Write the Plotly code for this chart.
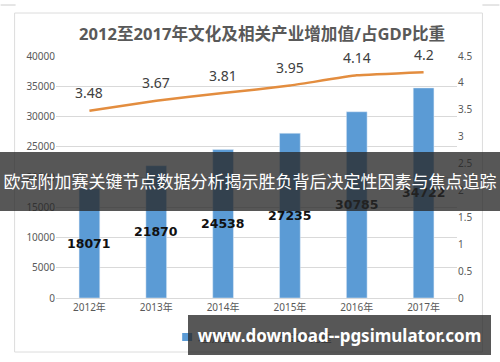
import plotly.graph_objects as go

years = ["2012年", "2013年", "2014年", "2015年", "2016年", "2017年"]
added_value = [18071, 21870, 24538, 27235, 30785, 34722]
gdp_share = [3.48, 3.67, 3.81, 3.95, 4.14, 4.2]
legend_names = ["增加值", "占GDP比重"]
title_text = "2012至2017年文化及相关产业增加值/占GDP比重"
banner_text = "欧冠附加赛关键节点数据分析揭示胜负背后决定性因素与焦点追踪"
url_text = "www.download--pgsimulator.com"

W, H = 500, 362
L, R, T, B = 55.5, 457.5, 56, 298

def px(x):
    return (x - L) / (R - L)

def py(y):
    return (B - y) / (B - T)

FONT = "Noto Sans, Noto Sans CJK SC, sans-serif"
BAR_C = "#5B9BD5"
LINE_C = "#E38D3F"
BANNER_C = "rgba(40,40,40,0.78)"

fig = go.Figure()
fig.add_trace(go.Bar(
    x=years, y=added_value, name=legend_names[0],
    marker_color=BAR_C, width=0.31, showlegend=False,
))
fig.add_trace(go.Scatter(
    x=years, y=gdp_share, name=legend_names[1], yaxis="y2", showlegend=False,
    mode="lines", line=dict(color=LINE_C, width=2.5, shape="spline", smoothing=0.3),
))
for xv, yv in zip(years, added_value):
    fig.add_annotation(x=xv, y=yv / 2, text=f"<b>{yv}</b>", showarrow=False,
                       xanchor="center", yanchor="middle",
                       font=dict(size=12.5, color="#111111", family="DejaVu Sans, sans-serif"))
for xv, yv in zip(years, gdp_share):
    fig.add_annotation(x=xv, y=yv, yref="y2", text=f"{yv:g}", showarrow=False,
                       xanchor="center", yanchor="middle",
                       yshift=18, font=dict(size=14, color="#404040", family=FONT))

fig.update_layout(
    width=W, height=H,
    margin=dict(l=L, r=W - R, t=T, b=H - B, autoexpand=False),
    paper_bgcolor="white", plot_bgcolor="white",
    font=dict(family=FONT, color="#595959"),
    bargap=0.69,
    showlegend=False,
    xaxis=dict(showgrid=False, showline=True, linecolor="#d9d9d9", ticks="", automargin=False,
               tickfont=dict(size=10, color="#595959")),
    yaxis=dict(range=[0, 40000], dtick=5000, tickformat="d", showgrid=True, gridcolor="#d9d9d9",
               zeroline=False, tickfont=dict(size=10, color="#595959"), ticks="", automargin=False),
    yaxis2=dict(range=[0, 4.5], dtick=0.5, overlaying="y", side="right", showgrid=False,
                zeroline=False, tickfont=dict(size=10, color="#595959"), ticks="", automargin=False),
)

shapes = []
shapes.append(dict(type="rect", xref="paper", yref="paper", x0=px(14), x1=px(483),
                   y0=py(352), y1=py(13), line=dict(color="#dcdcdc", width=1), layer="below"))
shapes.append(dict(type="line", xref="paper", yref="paper", x0=px(0), x1=px(15),
                   y0=py(5), y1=py(5), line=dict(color="#cccccc", width=1)))
shapes.append(dict(type="line", xref="paper", yref="paper", x0=px(483), x1=px(500),
                   y0=py(5), y1=py(5), line=dict(color="#cccccc", width=1)))
# legend markers
shapes.append(dict(type="rect", xref="paper", yref="paper", x0=px(182), x1=px(192),
                   y0=py(341), y1=py(333), fillcolor=BAR_C, line=dict(width=0)))
shapes.append(dict(type="line", xref="paper", yref="paper", x0=px(246), x1=px(270),
                   y0=py(337), y1=py(337), line=dict(color=LINE_C, width=2.5)))
fig.update_layout(shapes=shapes)

# legend labels
fig.add_annotation(xref="paper", yref="paper", x=px(196), y=py(337), xanchor="left", yanchor="middle",
                   text=legend_names[0], showarrow=False, font=dict(size=11, color="#595959"))
fig.add_annotation(xref="paper", yref="paper", x=px(274), y=py(337), xanchor="left", yanchor="middle",
                   text=legend_names[1], showarrow=False, font=dict(size=11, color="#595959"))

fig.add_annotation(xref="paper", yref="paper", x=px(262), y=py(33), xanchor="center", yanchor="middle",
                   text=f"<b>{title_text}</b>",
                   showarrow=False, font=dict(size=16.6, color="#595959", family=FONT))
# overlay banners (drawn after other texts so they cover them)
fig.add_annotation(xref="paper", yref="paper", x=px(250), y=py(181.5), xanchor="center", yanchor="middle",
                   text=banner_text,
                   width=500, height=59, bgcolor=BANNER_C, borderpad=0, borderwidth=0,
                   showarrow=False, font=dict(size=17, color="white", family=FONT))
fig.add_annotation(xref="paper", yref="paper", x=px(339.5), y=py(335), xanchor="center", yanchor="middle",
                   text=f"<b>{url_text}</b>",
                   width=303, height=40, bgcolor=BANNER_C, borderpad=0, borderwidth=0,
                   showarrow=False, font=dict(size=17, color="white", family=FONT))

fig.write_html("out.html", config={"displayModeBar": False},
               post_script="document.body.style.margin='0';document.body.style.overflow='hidden';")
